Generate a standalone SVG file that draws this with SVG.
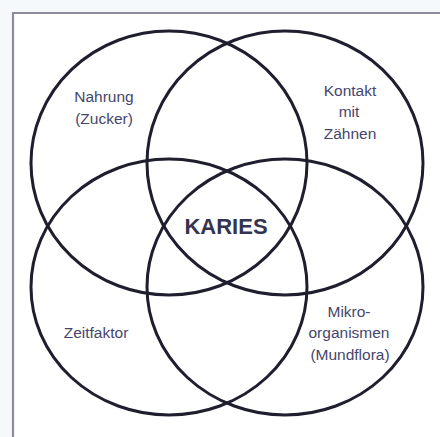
<svg xmlns="http://www.w3.org/2000/svg" width="440" height="437" viewBox="0 0 440 437">
  <style>
    .ring { fill: none; stroke: #1e1e2e; stroke-width: 3; }
    .lbl { font-family: "Liberation Sans", Arial, sans-serif; font-size: 15.5px; fill: #46466c; text-anchor: middle; }
    .main { font-family: "Liberation Sans", Arial, sans-serif; font-size: 22px; font-weight: bold; fill: #34344f; text-anchor: middle; }
    .frame { fill: none; stroke: #8c8c9c; stroke-width: 2.2; }
  </style>
  <rect x="0" y="0" width="440" height="437" fill="#f5f9fb"/>
  <rect x="13" y="13" width="427" height="424" fill="#ffffff"/>
  <polyline class="frame" points="13,437 13,13 440,13"/>

  <g id="nahrung">
    <ellipse class="ring" cx="169" cy="163" rx="138" ry="132"/>
    <text class="lbl" x="104" y="102">Nahrung</text>
    <text class="lbl" x="104" y="124">(Zucker)</text>
  </g>
  <g id="kontakt">
    <ellipse class="ring" cx="285" cy="163" rx="138" ry="132"/>
    <text class="lbl" x="350" y="96">Kontakt</text>
    <text class="lbl" x="349" y="117">mit</text>
    <text class="lbl" x="350" y="139">Zähnen</text>
  </g>
  <g id="zeitfaktor">
    <ellipse class="ring" cx="169" cy="287" rx="138" ry="128"/>
    <text class="lbl" x="96" y="338">Zeitfaktor</text>
  </g>
  <g id="mikroorganismen">
    <ellipse class="ring" cx="285" cy="287" rx="138" ry="128"/>
    <text class="lbl" x="349" y="317">Mikro-</text>
    <text class="lbl" x="349" y="338">organismen</text>
    <text class="lbl" x="350" y="360">(Mundflora)</text>
  </g>
  <g id="karies">
    <text class="main" x="226" y="234">KARIES</text>
  </g>
</svg>
